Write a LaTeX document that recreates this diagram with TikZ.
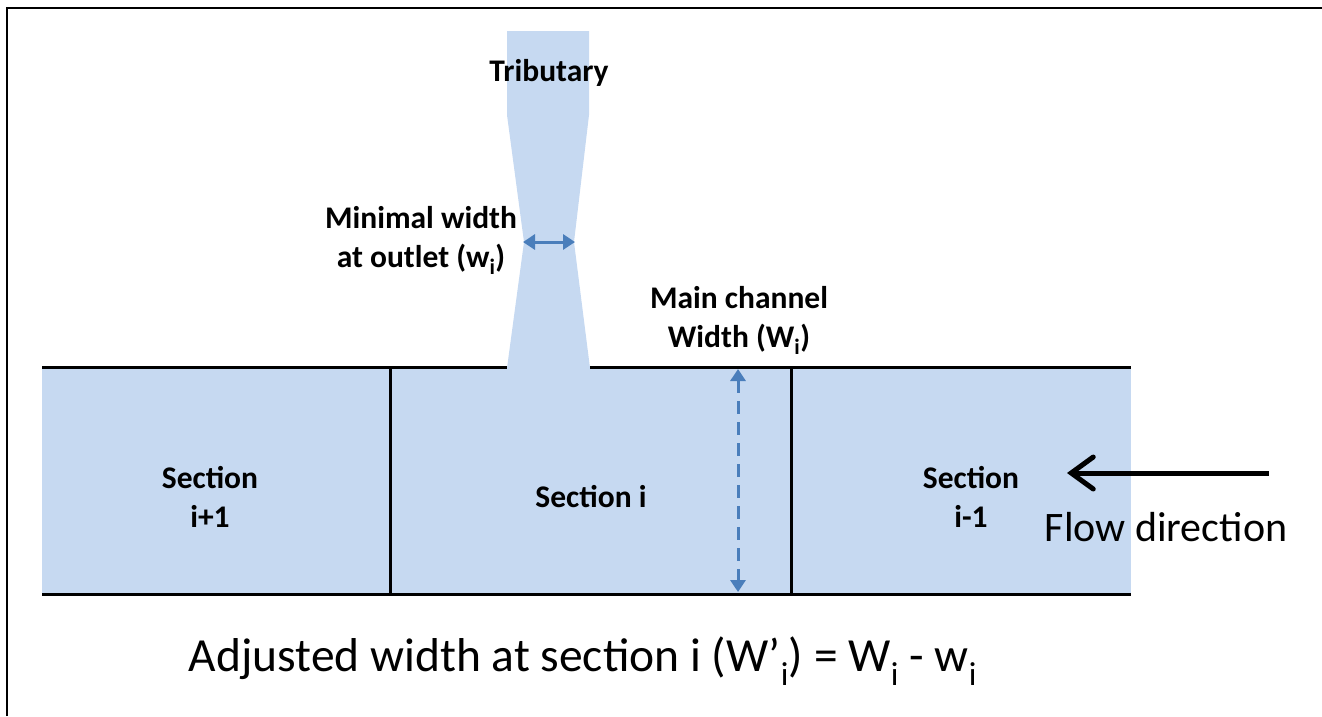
\documentclass[tikz,border=0pt]{standalone}
\usepackage{fontspec}
\setmainfont{Carlito}
\usetikzlibrary{arrows.meta}
\definecolor{chan}{HTML}{C6D9F1}
\definecolor{arr}{HTML}{4A7EBB}
\tikzset{
  lbl/.style={font=\bfseries\fontsize{31.5}{39}\selectfont, align=center, inner sep=0pt},
  edge/.style={line width=3pt, black},
  bluearr/.style={arr, line width=3pt, {Triangle[length=12pt,width=15pt]}-{Triangle[length=12pt,width=15pt]}}
}
\begin{document}
\begin{tikzpicture}[x=1pt,y=-1pt]
\useasboundingbox (0,0) rectangle (1322,716);
% frame (top and left only)
\draw[line width=2pt] (7,716) -- (7,8) -- (1322,8);
% channel fill
\fill[chan] (42,367) rectangle (1131,594);
% tributary
\fill[chan] (507,31) -- (589,31) -- (589,115) -- (574,242) -- (590,368) -- (507,368) -- (524,242) -- (507,115) -- cycle;
% channel lines
\coordinate (tl) at (42,367);
\coordinate (tg1) at (507,367);
\coordinate (tg2) at (590,367);
\coordinate (tr) at (1131,367);
\coordinate (bl) at (42,594);
\coordinate (br) at (1131,594);
\draw[edge] (tl) -- (tg1);
\draw[edge] (tg2) -- (tr);
\draw[edge] (bl) -- (br);
\coordinate (d1t) at (390,367);
\coordinate (d1b) at (390,594);
\coordinate (d2t) at (791,367);
\coordinate (d2b) at (791,594);
\draw[edge] (d1t) -- (d1b);
\draw[edge] (d2t) -- (d2b);
% minimal width arrow
\coordinate (wl) at (523,242);
\coordinate (wr) at (575,242);
\draw[bluearr] (wl) -- (wr);
% main channel width arrow
\coordinate (mt) at (738,369);
\coordinate (mb) at (738,592);
\draw[bluearr, dash pattern=on 13pt off 8pt] (mt) -- (mb);
% flow arrow
\coordinate (fs) at (1269,473);
\coordinate (fe) at (1067,473);
\draw[line width=5pt, {Straight Barb[length=22pt,width=32pt,line cap=round]}-] (fe) -- (fs);
% labels
\node[lbl] (trib) at (549,73) {Tributary};
\node[lbl] (minw) at (421,240) {Minimal width\\at outlet (w\textsubscript{i})};
\node[lbl] (mainw) at (739,320) {Main channel\\Width (W\textsubscript{i})};
\node[lbl] (s1) at (210,497) {Section\\i+1};
\node[lbl] (s2) at (591,497) {Section i};
\node[lbl] (s3) at (971,497) {Section\\i-1};
\node[inner sep=0pt, font=\fontsize{42}{48}\selectfont] (flow) at (1166,527) {Flow direction};
\node[inner sep=0pt, font=\fontsize{47.5}{56}\selectfont] (adj) at (583,661) {Adjusted width at section i (W’\textsubscript{i}) = W\textsubscript{i} - w\textsubscript{i}};
\end{tikzpicture}
\end{document}
